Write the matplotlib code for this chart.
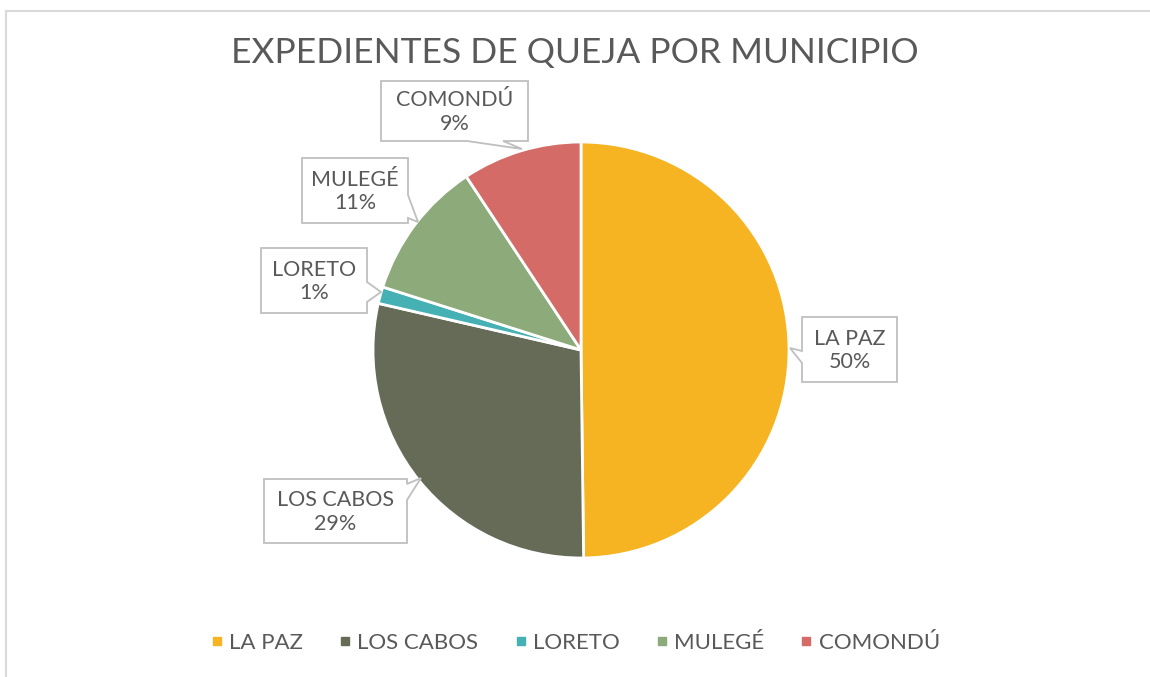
import matplotlib
matplotlib.use("Agg")
import matplotlib.pyplot as plt
from matplotlib.patches import Polygon
from matplotlib.lines import Line2D

# data
municipios = ["LA PAZ", "LOS CABOS", "LORETO", "MULEGÉ", "COMONDÚ"]
porcentajes = [49.8, 28.8, 1.3, 10.8, 9.3]
colores = ["#F6B322", "#666B58", "#46B1B5", "#8DAA7B", "#D46B66"]

# callout boxes (pixel coords, y down): x0, y0, x1, y1, side, base start, base end, tip
callouts = [
    (802, 317, 897, 382, "left", 351, 363, (790, 348)),
    (264, 479, 407, 543, "right", 500, 484, (421, 478)),
    (261, 248, 367, 313, "right", 302, 282, (381, 292)),
    (302, 158, 408, 223, "right", 218, 195, (418, 222)),
    (381, 81, 528, 141, "bottom", 503, 467, (522, 149)),
]

W, H = 1150, 677
gris = "#595959"
plt.rcParams["font.family"] = ["Lato", "DejaVu Sans"]

fig = plt.figure(figsize=(W / 100, H / 100), dpi=100)
ax = fig.add_axes([0, 0, 1, 1])

wedges, _ = ax.pie(porcentajes, colors=colores, startangle=90, counterclock=False,
                   center=(581, H - 350), radius=208, frame=True,
                   wedgeprops=dict(edgecolor="white", linewidth=2))
ax.set_xlim(0, W)
ax.set_ylim(0, H)
ax.set_aspect("equal")
ax.axis("off")


def caja(x0, y0, x1, y1, lado, b0, b1, tip):
    # rectangle outline with a pointed tail on one side
    if lado == "left":
        pts = [(x0, y0), (x1, y0), (x1, y1), (x0, y1), (x0, b1), tip, (x0, b0)]
    elif lado == "right":
        pts = [(x0, y0), (x1, y0), (x1, b1), tip, (x1, b0), (x1, y1), (x0, y1)]
    else:
        pts = [(x0, y0), (x1, y0), (x1, y1), (b0, y1), tip, (b1, y1), (x0, y1)]
    pts = [(px, H - py) for px, py in pts]
    ax.add_patch(Polygon(pts, closed=True, facecolor="white", edgecolor="#BFBFBF",
                         linewidth=1.3, zorder=5))


total = sum(porcentajes)
for nombre, v, c in zip(municipios, porcentajes, callouts):
    x0, y0, x1, y1, lado, b0, b1, tip = c
    caja(x0, y0, x1, y1, lado, b0, b1, tip)
    ax.text((x0 + x1) / 2, H - (y0 + y1) / 2 - 1, "%s\n%.0f%%" % (nombre, v / total * 100),
            ha="center", va="center", fontsize=15.5, color=gris, linespacing=1.2, zorder=6)

fig.text(0.5, 1 - 53 / H, "EXPEDIENTES DE QUEJA POR MUNICIPIO", ha="center", va="center",
         fontsize=25.5, color=gris)

handles = [Line2D([], [], marker="s", linestyle="none", markersize=5.5,
                  markerfacecolor=c, markeredgecolor=c) for c in colores]
leg = fig.legend(handles, municipios, loc="center", bbox_to_anchor=(0.5, 1 - 643 / H),
                 ncol=5, frameon=False, fontsize=16, handlelength=0.6, handletextpad=0.25,
                 columnspacing=1.6)
for t in leg.get_texts():
    t.set_color(gris)

# chart frame (top and left edges visible)
fig.add_artist(Line2D([5.5 / W, 1], [1 - 10.5 / H, 1 - 10.5 / H], color="#D9D9D9", linewidth=1.5))
fig.add_artist(Line2D([5.5 / W, 5.5 / W], [0, 1 - 10.5 / H], color="#D9D9D9", linewidth=1.5))

fig.savefig("out.png", dpi=100, facecolor="white")
